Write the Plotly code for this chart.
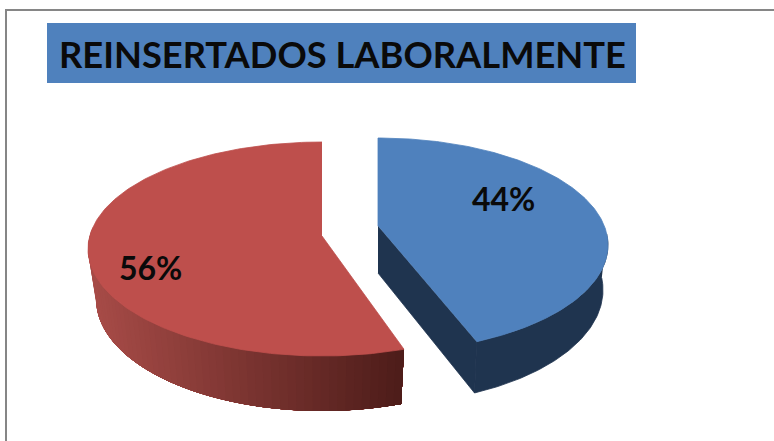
import numpy as np
import plotly.graph_objects as go

# Data
categories = ["Reinsertados", "No reinsertados"]
values = [44, 56]
labels = ["44%", "56%"]
title_text = "REINSERTADOS LABORALMENTE"

W, H = 774, 441
total = sum(values)
sweeps = [v / total * 360 for v in values]
a0 = [0.0, sweeps[0]]
a1 = [sweeps[0], 360.0]

BLUE, BLUE_WALL = "#4F81BD", "#1F344F"
RED = "#BE4F4C"
WALL_L, WALL_R = np.array([168, 76, 72]), np.array([76, 28, 25])

# Projection of each exploded wedge (tilted disc seen in perspective)
geo = [
    dict(apex=(378, 226), top=(378, 245, 230, 107), bot=(378, 290, 225, 114), warp=0.976, apex_b=(378, 273)),
    dict(apex=(322, 236), top=(322, 249, 234, 107), bot=(322, 299, 226, 112), warp=1.0, apex_b=None),
]
RED_START_SHIFT = 1.1  # perspective moves the front cut a little


def arc(e, deg):
    t = np.radians(deg)
    return e[0] + e[2] * np.sin(t), e[1] - e[3] * np.cos(t)


fig = go.Figure()


def poly(x, y, color, name, lw=0.8):
    fig.add_trace(go.Scatter(x=list(x), y=list(y), mode="lines", fill="toself",
                             fillcolor=color, line=dict(color=color, width=lw),
                             hoverinfo="text", text=name, showlegend=False))


# Red wedge: shaded outer wall (overlapping bands, light to dark by x), then top face
g = geo[1]
start = a0[1] + RED_START_SHIFT
wall_end = 282
edges = np.linspace(wall_end, start, 60)
x_left = arc(g["bot"], 270.0)[0]
x_right = arc(g["bot"], start)[0]
for e in edges[:-1]:
    d = np.linspace(start, e, 50)
    xt, yt = arc(g["top"], d)
    xb, yb = arc(g["bot"], d)
    frac = np.clip((x_right - arc(g["bot"], e)[0]) / (x_right - x_left), 0, 1)
    c = WALL_R + (WALL_L - WALL_R) * frac
    poly(np.r_[xt, xb[::-1]], np.r_[yt, yb[::-1]], "rgb(%d,%d,%d)" % tuple(c), categories[1], lw=0)
d = np.linspace(start, a1[1], 200)
xt, yt = arc(g["top"], d)
poly(np.r_[g["apex"][0], xt], np.r_[g["apex"][1], yt], RED, categories[1])

# Blue wedge: dark wall (outer arc + cut side), then top face
g = geo[0]
end = a1[0] * g["warp"]
d = np.linspace(84, end, 80)
xt, yt = arc(g["top"], d)
xb, yb = arc(g["bot"], d)
poly(np.r_[xt, xb[::-1]], np.r_[yt, yb[::-1]], BLUE_WALL, categories[0])
poly([g["apex"][0], xt[-1], xb[-1], g["apex_b"][0]],
     [g["apex"][1], yt[-1], yb[-1], g["apex_b"][1]], BLUE_WALL, categories[0])
d = np.linspace(a0[0], a1[0], 200) * g["warp"]
xt, yt = arc(g["top"], d)
poly(np.r_[g["apex"][0], xt], np.r_[g["apex"][1], yt], BLUE, categories[0])

fig.update_layout(
    width=W, height=H, margin=dict(l=0, r=0, t=0, b=0),
    paper_bgcolor="white", plot_bgcolor="white", showlegend=False,
    xaxis=dict(range=[0, W], visible=False, fixedrange=True),
    yaxis=dict(range=[H, 0], visible=False, fixedrange=True),
    shapes=[
        dict(type="rect", xref="x", yref="y", x0=6, y0=10, x1=W + 10, y1=H + 10,
             line=dict(color="#868686", width=2), fillcolor="rgba(0,0,0,0)", layer="below"),
        dict(type="rect", xref="x", yref="y", x0=47, y0=23, x1=636, y1=83,
             line=dict(width=0), fillcolor=BLUE, layer="below"),
    ],
    annotations=[
        dict(text=title_text, x=342, y=54, xref="x", yref="y", showarrow=False,
             xanchor="center", yanchor="middle",
             font=dict(family="Lato", size=36.3, color="#0A0A0A", weight=700)),
        dict(text=labels[0], x=503, y=198, xref="x", yref="y", showarrow=False,
             xanchor="center", yanchor="middle",
             font=dict(family="Lato", size=32, color="#0A0A0A", weight=700)),
        dict(text=labels[1], x=150, y=267, xref="x", yref="y", showarrow=False,
             xanchor="center", yanchor="middle",
             font=dict(family="Lato", size=32, color="#0A0A0A", weight=700)),
    ],
)
fig.write_html("out.html", config=dict(displayModeBar=False),
               post_script="document.body.style.margin='0';document.body.style.overflow='hidden';")
